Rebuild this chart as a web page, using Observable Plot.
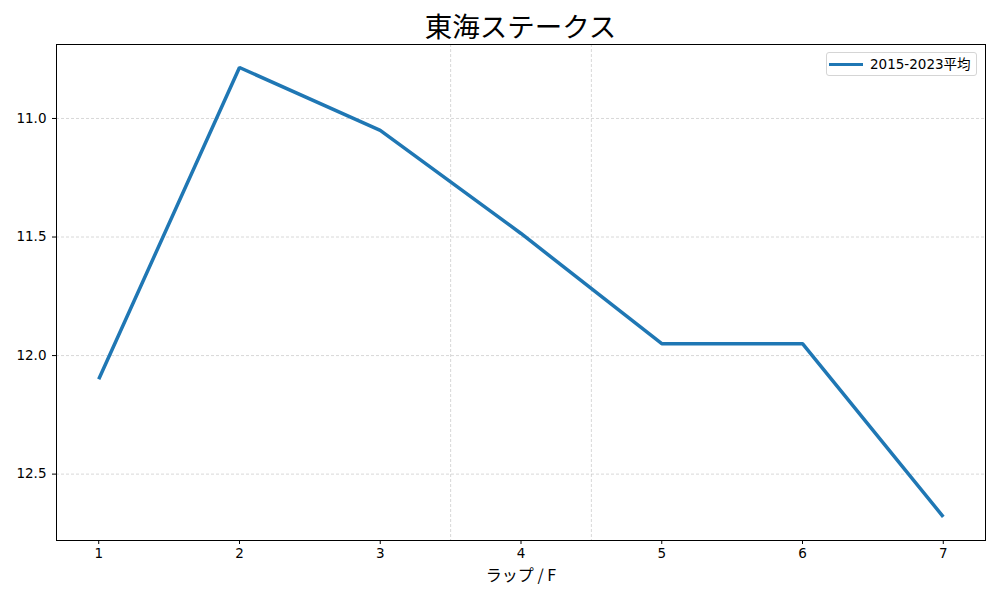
<!DOCTYPE html>
<html>
<head>
<meta charset="utf-8">
<script src="https://cdn.jsdelivr.net/npm/d3@7"></script>
<script src="https://cdn.jsdelivr.net/npm/@observablehq/plot@0.6"></script>
<style>
  html, body { margin: 0; padding: 0; background: #fff; }
  #wrap { position: relative; width: 1000px; height: 600px; font-family: "DejaVu Sans", "Noto Sans CJK JP", sans-serif; }
  #title { position: absolute; left: 56px; width: 929px; top: 5px; text-align: center; font-size: 27.5px; color: #000; line-height: 40px; font-family: "Noto Sans CJK JP", sans-serif; }
  #legend { position: absolute; left: 826px; top: 52px; width: 151px; height: 24px; border: 1px solid #d5d5d5; border-radius: 3px; background: rgba(255,255,255,0.8); box-sizing: border-box; font-size: 13.5px; }
  #legend .swatch { position: absolute; left: 2px; top: 9.5px; width: 34px; height: 3.5px; background: #1f77b4; }
  #legend .lbl { position: absolute; left: 43px; top: 2px; line-height: 18px; color: #000; white-space: nowrap; }
  #chart { position: absolute; left: 0; top: 0; }
</style>
</head>
<body>
<div id="wrap">
  <div id="chart"></div>
  <div id="title">東海ステークス</div>
  <div id="legend"><div class="swatch"></div><div class="lbl">2015-2023平均</div></div>
</div>
<script>
const laps = [1, 2, 3, 4, 5, 6, 7];
const lapTimes = [12.10, 10.785, 11.05, 11.485, 11.95, 11.95, 12.68];
const yTicks = [11.0, 11.5, 12.0, 12.5];
const xGrid = [3.5, 4.5];
const seriesName = "2015-2023平均";

const data = laps.map((lap, i) => ({lap, time: lapTimes[i]}));

const chart = Plot.plot({
  width: 1000,
  height: 600,
  marginLeft: 56,
  marginRight: 15,
  marginTop: 44,
  marginBottom: 60,
  style: {fontFamily: '"DejaVu Sans", "Noto Sans CJK JP", sans-serif', fontSize: "13.5px", color: "#000", background: "transparent"},
  x: {domain: [0.7, 7.3]},
  y: {domain: [10.688, 12.78], reverse: true},
  marks: [
    Plot.ruleY(yTicks, {stroke: "#bdbdbd", strokeWidth: 0.6, strokeDasharray: "3,2"}),
    Plot.ruleX(xGrid, {stroke: "#bdbdbd", strokeWidth: 0.6, strokeDasharray: "3,2"}),
    Plot.line(data, {x: "lap", y: "time", stroke: "#1f77b4", strokeWidth: 3.5, strokeLinejoin: "miter", strokeLinecap: "butt"}),
    Plot.frame({stroke: "#000", strokeWidth: 1}),
    Plot.axisX(laps, {tickSize: 4, tickPadding: 4, tickFormat: d => String(d), label: null, fontSize: 13.5}),
    Plot.text(["ラップ / F"], {frameAnchor: "bottom", lineAnchor: "middle", dy: 35, fontSize: 16, fill: "#000", fontFamily: '"Noto Sans CJK JP", "DejaVu Sans", sans-serif'}),
    Plot.axisY(yTicks, {tickSize: 4, tickPadding: 6, tickFormat: d => d.toFixed(1), label: null, fontSize: 13.5})
  ]
});
document.getElementById("chart").appendChild(chart);
</script>
</body>
</html>
